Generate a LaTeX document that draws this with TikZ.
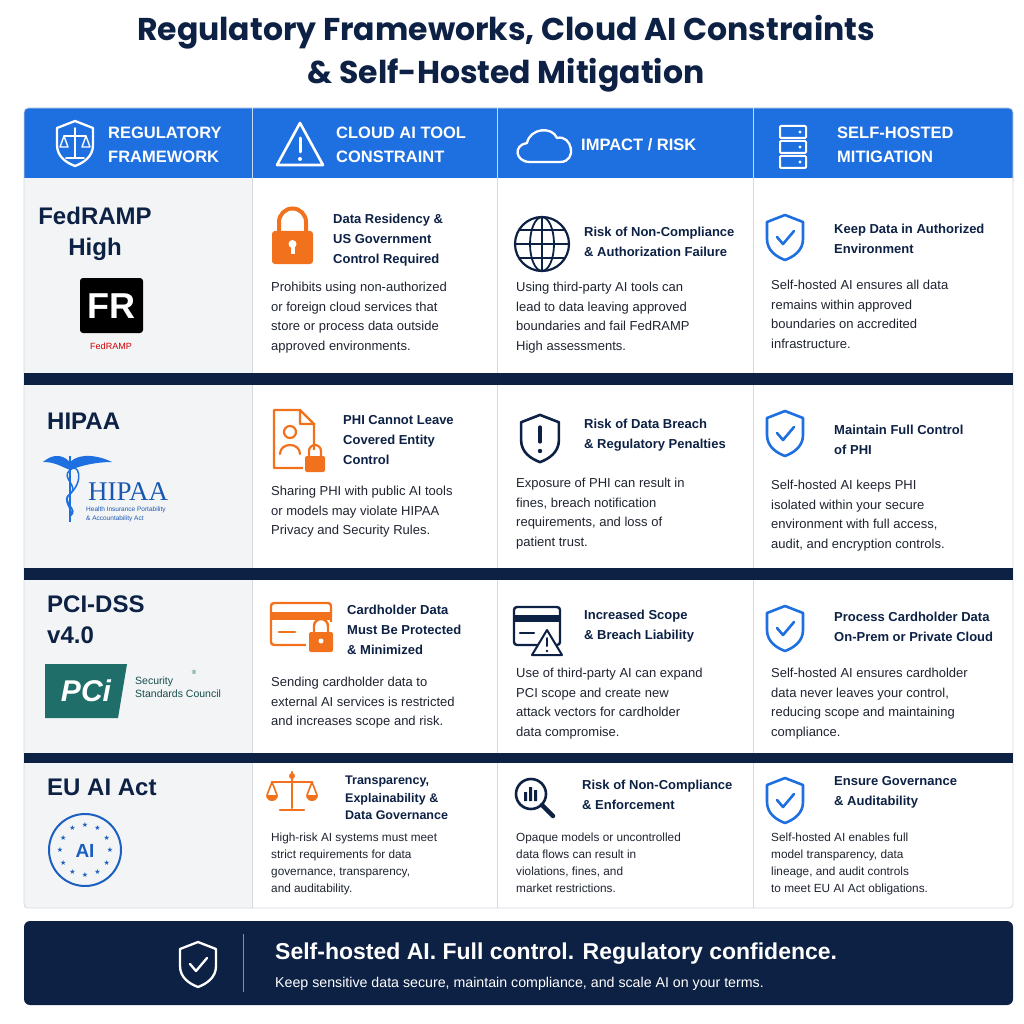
\documentclass[tikz,border=0pt]{standalone}
\usepackage{fontspec}
\setmainfont{Liberation Sans}
\newfontfamily\pop{Poppins}
\newfontfamily\serf{Liberation Serif}
\newfontfamily\dv{DejaVu Sans}
\usetikzlibrary{shapes.geometric,calc}
\definecolor{navy}{HTML}{0D2145}
\definecolor{hblue}{HTML}{1E6FE0}
\definecolor{ora}{HTML}{F2711C}
\definecolor{lgrey}{HTML}{F3F4F6}
\definecolor{bord}{HTML}{D5D9E0}
\definecolor{txt}{HTML}{1F2430}
\definecolor{teal}{HTML}{1F6E6A}
\tikzset{
 body/.style={anchor=north west,align=left,inner sep=0pt,text=txt,font=\fontsize{13}{19.5}\selectfont},
 bodys/.style={body,font=\fontsize{11.8}{17}\selectfont},
 ttl/.style={anchor=north west,align=left,inner sep=0pt,text=navy,font=\bfseries\fontsize{13}{20}\selectfont},
 ttls/.style={ttl,font=\bfseries\fontsize{12.5}{17.5}\selectfont},
 hdr/.style={anchor=west,align=left,inner sep=0pt,text=white,font=\bfseries\fontsize{16.5}{24}\selectfont},
 fw/.style={anchor=north west,align=left,inner sep=0pt,text=navy,font=\bfseries\fontsize{24}{31}\selectfont},
 oic/.style={draw=ora,line width=2.6pt,line join=round,line cap=round},
 nic/.style={draw=navy,line width=2.6pt,line join=round,line cap=round},
 bic/.style={draw=hblue,line width=2.6pt,line join=round,line cap=round},
 wic/.style={draw=white,line width=2.3pt,line join=round,line cap=round},
 shieldp/.pic={\path[pic actions] (0,-22) -- (18,-15) -- (18,2) .. controls (18,14) and (8,20) .. (0,23) .. controls (-8,20) and (-18,14) .. (-18,2) -- (-18,-15) -- cycle;},
 chk/.pic={\path[pic actions] (-8,0) -- (-2,7) -- (9,-6);}
}
\begin{document}
\begin{tikzpicture}[x=1pt,y=-1pt]
\useasboundingbox (0,0) rectangle (1024,1024);
\fill[white] (0,0) rectangle (1024,1024);
% title
\node[text=navy,align=center,font=\pop\bfseries\fontsize{31.5}{43}\selectfont] (title) at (506,54) {Regulatory Frameworks, Cloud AI Constraints\\\& Self-Hosted Mitigation};
% table
\fill[lgrey] (24,178) rectangle (252,908);
\fill[hblue,rounded corners=4pt] (24,108) rectangle (1013,185);
\fill[white] (252,178) rectangle (1013,186);
\fill[lgrey] (24,178) rectangle (252,186);
\foreach \x in {252,497,753} \draw[bord,line width=0.8pt] (\x,178) -- (\x,908);
\foreach \x in {252,497,753} \draw[white!75!hblue,line width=0.8pt] (\x,108) -- (\x,178);
\draw[bord,line width=0.8pt,rounded corners=4pt] (24,108) rectangle (1013,908);
\foreach \a/\b in {373/385,568/580,753/763} \fill[navy] (24,\a) rectangle (1013,\b);
% header icons
\pic[wic] at (75,143) {shieldp};
\draw[wic,line width=1.6pt] (75,128) -- (75,158) (66,158) -- (84,158) (64,136) -- (86,136);
\draw[wic,line width=1.4pt] (64,136) -- (60,147) -- (68,147) -- cycle (86,136) -- (82,147) -- (90,147) -- cycle;
\draw[wic,line width=2.6pt] (300,123) -- (323,165) -- (277,165) -- cycle;
\draw[wic,line width=3pt] (300,138) -- (300,152); \fill[white] (300,159) circle (2pt);
\draw[wic] (530,162) .. controls (515,162) and (513,145) .. (527,143) .. controls (530,128) and (552,126) .. (557,138) .. controls (572,134) and (578,162) .. (560,162) -- cycle;
\foreach \y in {126,141,156} {\draw[wic,line width=2pt,rounded corners=1pt] (780,\y) rectangle (806,\y+12); \fill[white] (800,\y+6) circle (1.6pt);}
\node[hdr] (h1) at (108,145) {REGULATORY\\FRAMEWORK};
\node[hdr] (h2) at (336,145) {CLOUD AI TOOL\\CONSTRAINT};
\node[hdr] (h3) at (581,145) {IMPACT / RISK};
\node[hdr] (h4) at (837,145) {SELF-HOSTED\\MITIGATION};
% column 1
\node[fw,align=center,anchor=north] (f1) at (95,207) {FedRAMP\\High};
\fill[black,rounded corners=3pt] (80,278) rectangle (143,333);
\node[text=white,font=\bfseries\fontsize{36}{36}\selectfont,inner sep=0pt] (fr) at (111,306) {FR};
\node[text=red!80!black,font=\fontsize{9}{9}\selectfont] (frt) at (111,346) {FedRAMP};
\node[fw] (f2) at (47,413) {HIPAA};
\draw[hblue,line width=2pt] (70,456) -- (70,522);
\draw[hblue,line width=1.5pt] (70,470) .. controls (60,478) and (80,486) .. (70,494) .. controls (60,502) and (80,510) .. (70,516);
\draw[hblue,line width=1.5pt] (70,470) .. controls (78,462) and (85,480) .. (70,494) .. controls (60,500) and (76,512) .. (70,516);
\fill[hblue] (70,462) .. controls (60,452) and (50,456) .. (43,462) .. controls (55,462) and (60,466) .. (70,470) -- cycle;
\fill[hblue] (70,462) .. controls (80,452) and (100,456) .. (112,462) .. controls (95,462) and (80,466) .. (70,470) -- cycle;
\node[anchor=west,text=hblue!70!navy,font=\serf\fontsize{27}{27}\selectfont,inner sep=0pt] (hip) at (88,492) {HIPAA};
\node[anchor=north west,align=left,text=hblue!70!navy,font=\fontsize{6.5}{8.5}\selectfont,inner sep=0pt] (hipt) at (86,507) {Health Insurance Portability\\\& Accountability Act};
\node[fw] (f3) at (47,596) {PCI-DSS\\v4.0};
\fill[teal] (45,664) -- (127,664) -- (118,718) -- (45,718) -- cycle;
\node[text=white,font=\bfseries\itshape\fontsize{30}{30}\selectfont,inner sep=0pt] (pci) at (86,691) {PCi};
\node[anchor=north west,align=left,text=teal!70!black,font=\fontsize{10.5}{13}\selectfont,inner sep=0pt] (pcit) at (135,677) {Security\\Standards Council};
\node[text=teal,font=\fontsize{6}{6}\selectfont] (reg) at (194,672) {®};
\node[fw] (f4) at (47,779) {EU AI Act};
\draw[hblue!80!navy,line width=2pt] (85,850) circle (36);
\foreach \a in {0,30,...,330} \node[text=hblue!80!navy,font=\dv\fontsize{7}{7}\selectfont,inner sep=0pt] at ($(85,850)+(\a:25)$) {★};
\node[text=hblue!80!navy,font=\bfseries\fontsize{19}{19}\selectfont] (ai) at (85,851) {AI};
% row 1
\fill[ora,rounded corners=3pt] (272,231) rectangle (313,264);
\draw[ora,line width=4pt] (279,231) -- (279,222) arc[start angle=180,end angle=360,radius=13.5] -- (306,231);
\fill[white] (292.5,244) circle (4); \fill[white] (290.5,244) rectangle (294.5,254);
\node[ttl] (t12) at (333,214) {Data Residency \&\\US Government\\Control Required};
\node[body] (b12) at (271,282) {Prohibits using non-authorized\\or foreign cloud services that\\store or process data outside\\approved environments.};
\draw[nic,line width=2.2pt] (542,244) circle (27);
\draw[nic,line width=1.8pt] (542,244) ellipse (12 and 27) (542,217) -- (542,271) (515,244) -- (569,244) (519,230) -- (565,230) (519,258) -- (565,258);
\node[ttl] (t13) at (584,227) {Risk of Non-Compliance\\\& Authorization Failure};
\node[body] (b13) at (516,282) {Using third-party AI tools can\\lead to data leaving approved\\boundaries and fail FedRAMP\\High assessments.};
\pic[bic] at (785,237) {shieldp}; \pic[bic] at (785,237) {chk};
\node[ttl] (t14) at (834,224) {Keep Data in Authorized\\Environment};
\node[body] (b14) at (771,280) {Self-hosted AI ensures all data\\remains within approved\\boundaries on accredited\\infrastructure.};
% row 2
\draw[oic,line width=2.2pt] (274,410) -- (300,410) -- (314,424) -- (314,468) -- (274,468) -- cycle (300,410) -- (300,424) -- (314,424);
\draw[oic,line width=2.2pt] (290,432) circle (6) (280,454) .. controls (280,442) and (300,442) .. (300,454);
\fill[white] (303,450) rectangle (327,474);
\fill[ora,rounded corners=2pt] (305,456) rectangle (325,472);
\draw[ora,line width=2.2pt] (309,456) -- (309,451) arc[start angle=180,end angle=360,radius=6] -- (321,456);
\node[ttl] (t22) at (343,415) {PHI Cannot Leave\\Covered Entity\\Control};
\node[body] (b22) at (271,486) {Sharing PHI with public AI tools\\or models may violate HIPAA\\Privacy and Security Rules.};
\pic[nic,scale=1.05] at (540,438) {shieldp};
\draw[nic,line width=3.2pt] (540,427) -- (540,442); \fill[navy] (540,451) circle (2.2pt);
\node[ttl] (t23) at (584,419) {Risk of Data Breach\\\& Regulatory Penalties};
\node[body] (b23) at (516,478) {Exposure of PHI can result in\\fines, breach notification\\requirements, and loss of\\patient trust.};
\pic[bic] at (785,433) {shieldp}; \pic[bic] at (785,433) {chk};
\node[ttl] (t24) at (834,425) {Maintain Full Control\\of PHI};
\node[body] (b24) at (771,480) {Self-hosted AI keeps PHI\\isolated within your secure\\environment with full access,\\audit, and encryption controls.};
% row 3
\draw[oic,line width=2.4pt,rounded corners=3pt] (271,603) rectangle (331,645);
\fill[ora] (271,612) rectangle (331,620);
\draw[oic,line width=2.4pt] (279,632) -- (295,632);
\fill[white] (306,622) rectangle (336,655);
\fill[ora,rounded corners=2pt] (309,632) rectangle (333,652);
\fill[white] (321,641) circle (2.5);
\draw[ora,line width=2.4pt] (314,632) -- (314,626) arc[start angle=180,end angle=360,radius=7] -- (328,632);
\node[ttl] (t32) at (347,605) {Cardholder Data\\Must Be Protected\\\& Minimized};
\node[body] (b32) at (271,677) {Sending cardholder data to\\external AI services is restricted\\and increases scope and risk.};
\draw[nic,line width=2.4pt,rounded corners=3pt] (514,607) rectangle (560,645);
\fill[navy] (514,615) rectangle (560,622);
\draw[nic,line width=2.2pt] (520,633) -- (534,633);
\fill[white] (547,628) -- (563,656) -- (531,656) -- cycle;
\draw[nic,line width=2pt] (547,630) -- (562,655) -- (532,655) -- cycle;
\draw[nic,line width=2pt] (547,638) -- (547,646); \fill[navy] (547,651) circle (1.3);
\node[ttl] (t33) at (584,610) {Increased Scope\\\& Breach Liability};
\node[body] (b33) at (516,668) {Use of third-party AI can expand\\PCI scope and create new\\attack vectors for cardholder\\data compromise.};
\pic[bic] at (785,628) {shieldp}; \pic[bic] at (785,628) {chk};
\node[ttl] (t34) at (834,612) {Process Cardholder Data\\On-Prem or Private Cloud};
\node[body] (b34) at (771,668) {Self-hosted AI ensures cardholder\\data never leaves your control,\\reducing scope and maintaining\\compliance.};
% row 4
\draw[oic,line width=2.4pt] (292,772) -- (292,808) (280,810) -- (304,810) (272,782) -- (312,782);
\fill[ora] (292,776) circle (3);
\draw[oic,line width=1.6pt] (272,782) -- (267,795) (272,782) -- (277,795) (312,782) -- (307,795) (312,782) -- (317,795);
\fill[ora] (266,795) arc[start angle=180,end angle=0,radius=6] -- cycle (306,795) arc[start angle=180,end angle=0,radius=6] -- cycle;
\node[ttls] (t42) at (345,776) {Transparency,\\Explainability \&\\Data Governance};
\node[bodys] (b42) at (271,833) {High-risk AI systems must meet\\strict requirements for data\\governance, transparency,\\and auditability.};
\draw[nic,line width=2.6pt] (531,794) circle (15);
\draw[nic,line width=4.5pt,line cap=round] (542,805) -- (553,816);
\fill[navy] (524,792) rectangle (527,801) (529,787) rectangle (532,801) (534,790) rectangle (537,801);
\node[ttl] (t43) at (582,780) {Risk of Non-Compliance\\\& Enforcement};
\node[bodys] (b43) at (516,833) {Opaque models or uncontrolled\\data flows can result in\\violations, fines, and\\market restrictions.};
\pic[bic] at (785,800) {shieldp}; \pic[bic] at (785,800) {chk};
\node[ttl] (t44) at (834,776) {Ensure Governance\\\& Auditability};
\node[bodys] (b44) at (771,833) {Self-hosted AI enables full\\model transparency, data\\lineage, and audit controls\\to meet EU AI Act obligations.};
% footer
\fill[navy,rounded corners=6pt] (24,921) rectangle (1013,1005);
\pic[wic] at (198,964) {shieldp}; \pic[wic] at (198,964) {chk};
\draw[white!50!navy,line width=1pt] (243,934) -- (243,992);
\node[anchor=west,text=white,font=\bfseries\fontsize{23}{26}\selectfont,inner sep=0pt] (ft) at (275,954) {Self-hosted AI. Full control. Regulatory confidence.};
\node[anchor=west,text=white,font=\fontsize{14.2}{16}\selectfont,inner sep=0pt] (fs) at (275,984) {Keep sensitive data secure, maintain compliance, and scale AI on your terms.};
\end{tikzpicture}
\end{document}
